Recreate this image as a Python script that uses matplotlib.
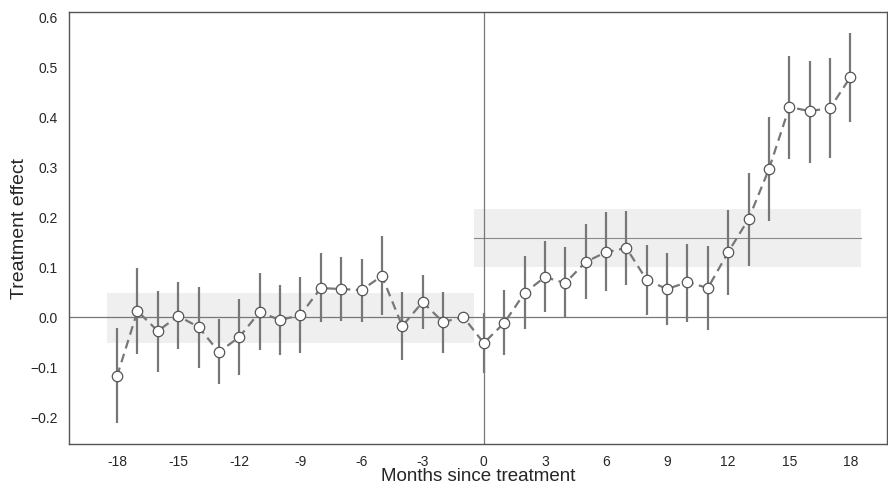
import matplotlib
matplotlib.use("Agg")
import matplotlib.pyplot as plt
import numpy as np

plt.rcParams['font.family'] = ['Liberation Sans', 'DejaVu Sans']

# meses relativos al tratamiento
meses = list(range(-18, 19))

# efecto estimado por mes
efecto = [-0.118, 0.012, -0.028, 0.002, -0.020, -0.070, -0.040, 0.010, -0.006,
          0.004, 0.058, 0.056, 0.054, 0.082, -0.018, 0.030, -0.010, 0.000,
          -0.052, -0.012, 0.048, 0.080, 0.068, 0.110, 0.130, 0.138, 0.074,
          0.056, 0.070, 0.058, 0.130, 0.196, 0.296, 0.420, 0.412, 0.418, 0.480]

# intervalo de confianza (limite superior e inferior)
ic_sup = [-0.022, 0.098, 0.052, 0.070, 0.060, -0.004, 0.036, 0.088, 0.064,
          0.080, 0.128, 0.120, 0.116, 0.162, 0.050, 0.084, 0.050, 0.000,
          0.008, 0.054, 0.122, 0.152, 0.140, 0.186, 0.210, 0.212, 0.144,
          0.128, 0.146, 0.142, 0.214, 0.288, 0.400, 0.522, 0.512, 0.518, 0.568]
ic_inf = [-0.212, -0.074, -0.110, -0.064, -0.102, -0.134, -0.116, -0.066, -0.076,
          -0.072, -0.010, -0.008, -0.010, 0.004, -0.086, -0.024, -0.072, 0.000,
          -0.112, -0.076, -0.024, 0.010, -0.002, 0.036, 0.052, 0.064, 0.004,
          -0.016, -0.010, -0.026, 0.044, 0.102, 0.192, 0.316, 0.308, 0.318, 0.390]

# efecto promedio antes y despues (con su banda)
promedio_pre = -0.002
banda_pre = 0.050
promedio_post = 0.158
banda_post = 0.058

x = np.array(meses)
y = np.array(efecto)
sup = np.array(ic_sup)
inf = np.array(ic_inf)

fig = plt.figure(figsize=(8.88, 4.84), dpi=100)
ax = fig.add_axes([0.0777, 0.0826, 0.9213, 0.8924])

# bandas sombreadas, una barra por mes
pre = x[x < 0]
post = x[x >= 0]
ax.bar(pre, 2 * banda_pre, bottom=promedio_pre - banda_pre, width=1.0,
       color="#efefef", edgecolor="none", linewidth=0, zorder=1)
ax.bar(post, 2 * banda_post, bottom=promedio_post - banda_post, width=1.0,
       color="#efefef", edgecolor="none", linewidth=0, zorder=1)
ax.plot([post[0] - 0.5, post[-1] + 0.5], [promedio_post, promedio_post],
        color="#888888", linewidth=0.8, zorder=2)

# lineas de referencia
ax.axhline(0, color="#777777", linewidth=0.9, zorder=2)
ax.axvline(0, color="#777777", linewidth=0.9, zorder=2)

# intervalos
con_ic = sup != inf
ax.vlines(x[con_ic], inf[con_ic], sup[con_ic], color="#777777", linewidth=1.6, zorder=3)

# serie
ax.plot(x, y, color="#777777", linestyle="--", linewidth=1.6, dashes=(4, 2.5),
        marker="o", markersize=7.5, markerfacecolor="white",
        markeredgecolor="#555555", markeredgewidth=0.9, zorder=4)

ax.set_xlim(-20.36, 19.8)
ax.set_ylim(-0.254, 0.61)
ticks_x = list(range(-18, 19, 3))
ax.set_xticks(ticks_x)
ax.set_xticklabels([str(t) for t in ticks_x])
ax.set_yticks([-0.2, -0.1, 0.0, 0.1, 0.2, 0.3, 0.4, 0.5, 0.6])
ax.tick_params(axis="both", length=0, labelsize=10, colors="#262626")
ax.tick_params(axis="y", pad=8)
ax.tick_params(axis="x", pad=8)

for lado in ax.spines.values():
    lado.set_color("#555555")
    lado.set_linewidth(1.0)

ax.set_xlabel("Months since treatment", fontsize=13.5, color="#262626", labelpad=-1)
ax.set_ylabel("Treatment effect", fontsize=14, color="#262626", labelpad=2)

fig.savefig("out.png", dpi=100)
